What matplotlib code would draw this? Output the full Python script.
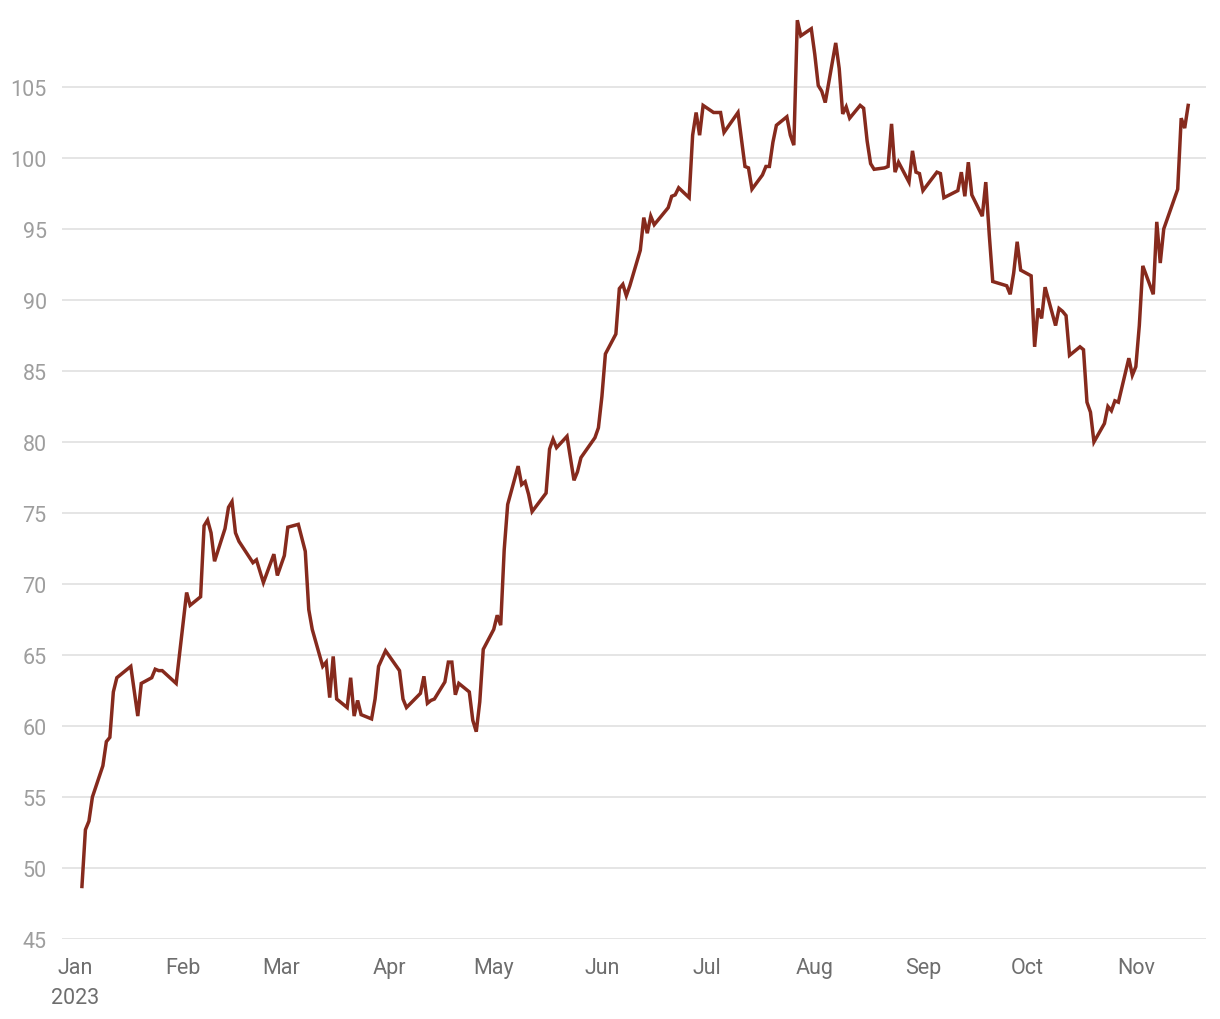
import matplotlib

matplotlib.use("Agg")

import matplotlib.dates as mdates
import matplotlib.pyplot as plt
import numpy as np
import pandas as pd

plt.rcParams["font.family"] = ["Roboto", "DejaVu Sans"]

# values, one per visible vertex of the line
dates = [
    "2023-01-03", "2023-01-04", "2023-01-05", "2023-01-06", "2023-01-09", "2023-01-10",
    "2023-01-11", "2023-01-12", "2023-01-13", "2023-01-17", "2023-01-19", "2023-01-20",
    "2023-01-23", "2023-01-24", "2023-01-25", "2023-01-26", "2023-01-30", "2023-02-02",
    "2023-02-03", "2023-02-06", "2023-02-07", "2023-02-08", "2023-02-09", "2023-02-10",
    "2023-02-13", "2023-02-14", "2023-02-15", "2023-02-16", "2023-02-17", "2023-02-21",
    "2023-02-22", "2023-02-24", "2023-02-27", "2023-02-28", "2023-03-02", "2023-03-03",
    "2023-03-06", "2023-03-08", "2023-03-09", "2023-03-10", "2023-03-13", "2023-03-14",
    "2023-03-15", "2023-03-16", "2023-03-17", "2023-03-20", "2023-03-21", "2023-03-22",
    "2023-03-23", "2023-03-24", "2023-03-27", "2023-03-28", "2023-03-29", "2023-03-31",
    "2023-04-04", "2023-04-05", "2023-04-06", "2023-04-10", "2023-04-11", "2023-04-12",
    "2023-04-13", "2023-04-14", "2023-04-17", "2023-04-18", "2023-04-19", "2023-04-20",
    "2023-04-21", "2023-04-24", "2023-04-25", "2023-04-26", "2023-04-27", "2023-04-28",
    "2023-05-01", "2023-05-02", "2023-05-03", "2023-05-04", "2023-05-05", "2023-05-08",
    "2023-05-09", "2023-05-10", "2023-05-11", "2023-05-12", "2023-05-16", "2023-05-17",
    "2023-05-18", "2023-05-19", "2023-05-22", "2023-05-24", "2023-05-25", "2023-05-26",
    "2023-05-30", "2023-05-31", "2023-06-01", "2023-06-02", "2023-06-05", "2023-06-06",
    "2023-06-07", "2023-06-08", "2023-06-09", "2023-06-12", "2023-06-13", "2023-06-14",
    "2023-06-15", "2023-06-16", "2023-06-20", "2023-06-21", "2023-06-22", "2023-06-23",
    "2023-06-26", "2023-06-27", "2023-06-28", "2023-06-29", "2023-06-30", "2023-07-03",
    "2023-07-05", "2023-07-06", "2023-07-10", "2023-07-12", "2023-07-13", "2023-07-14",
    "2023-07-17", "2023-07-18", "2023-07-19", "2023-07-20", "2023-07-21", "2023-07-24",
    "2023-07-25", "2023-07-26", "2023-07-27", "2023-07-28", "2023-07-31", "2023-08-01",
    "2023-08-02", "2023-08-03", "2023-08-04", "2023-08-07", "2023-08-08", "2023-08-09",
    "2023-08-10", "2023-08-11", "2023-08-14", "2023-08-15", "2023-08-16", "2023-08-17",
    "2023-08-18", "2023-08-21", "2023-08-22", "2023-08-23", "2023-08-24", "2023-08-25",
    "2023-08-28", "2023-08-29", "2023-08-30", "2023-08-31", "2023-09-01", "2023-09-05",
    "2023-09-06", "2023-09-07", "2023-09-11", "2023-09-12", "2023-09-13", "2023-09-14",
    "2023-09-15", "2023-09-18", "2023-09-19", "2023-09-20", "2023-09-21", "2023-09-25",
    "2023-09-26", "2023-09-27", "2023-09-28", "2023-09-29", "2023-10-02", "2023-10-03",
    "2023-10-04", "2023-10-05", "2023-10-06", "2023-10-09", "2023-10-10", "2023-10-11",
    "2023-10-12", "2023-10-13", "2023-10-16", "2023-10-17", "2023-10-18", "2023-10-19",
    "2023-10-20", "2023-10-23", "2023-10-24", "2023-10-25", "2023-10-26", "2023-10-27",
    "2023-10-30", "2023-10-31", "2023-11-01", "2023-11-02", "2023-11-03", "2023-11-06",
    "2023-11-07", "2023-11-08", "2023-11-09", "2023-11-13", "2023-11-14", "2023-11-15",
    "2023-11-16",
]

values = [
    48.7, 52.7, 53.3, 55.0, 57.2, 58.9,
    59.2, 62.4, 63.4, 64.2, 60.7, 63.0,
    63.4, 64.0, 63.9, 63.9, 63.0, 69.4,
    68.5, 69.1, 74.1, 74.5, 73.6, 71.6,
    73.9, 75.4, 75.8, 73.6, 73.0, 71.5,
    71.7, 70.1, 72.1, 70.6, 72.0, 74.0,
    74.2, 72.3, 68.2, 66.8, 64.2, 64.5,
    62.0, 64.9, 61.9, 61.3, 63.4, 60.7,
    61.8, 60.8, 60.5, 61.9, 64.2, 65.3,
    63.9, 61.9, 61.3, 62.3, 63.5, 61.6,
    61.8, 61.9, 63.1, 64.5, 64.5, 62.2,
    63.0, 62.4, 60.4, 59.6, 61.7, 65.4,
    66.8, 67.8, 67.1, 72.4, 75.6, 78.3,
    77.0, 77.2, 76.3, 75.1, 76.4, 79.5,
    80.2, 79.6, 80.4, 77.3, 77.9, 78.9,
    80.3, 81.0, 83.2, 86.2, 87.6, 90.8,
    91.1, 90.3, 91.0, 93.5, 95.8, 94.7,
    95.9, 95.3, 96.5, 97.3, 97.4, 97.9,
    97.2, 101.6, 103.2, 101.6, 103.7, 103.2,
    103.2, 101.8, 103.2, 99.4, 99.3, 97.8,
    98.8, 99.4, 99.4, 101.1, 102.3, 102.9,
    101.6, 100.9, 109.7, 108.6, 109.1, 107.3,
    105.1, 104.7, 103.9, 108.1, 106.3, 103.1,
    103.6, 102.8, 103.7, 103.5, 101.2, 99.6,
    99.2, 99.3, 99.4, 102.4, 99.0, 99.7,
    98.3, 100.5, 99.0, 98.9, 97.7, 99.0,
    98.9, 97.2, 97.7, 99.0, 97.3, 99.7,
    97.4, 95.9, 98.3, 94.6, 91.3, 91.0,
    90.4, 91.9, 94.1, 92.1, 91.7, 86.7,
    89.4, 88.7, 90.9, 88.2, 89.4, 89.2,
    88.9, 86.1, 86.7, 86.5, 82.8, 82.1,
    80.0, 81.3, 82.5, 82.2, 82.9, 82.8,
    85.9, 84.7, 85.3, 88.2, 92.4, 90.4,
    95.5, 92.6, 95.0, 97.8, 102.8, 102.1,
    103.7,
]

y_ticks = [45, 50, 55, 60, 65, 70, 75, 80, 85, 90, 95, 100, 105]
month_starts = pd.date_range("2023-01-01", "2023-11-01", freq="MS")
month_labels = ["Jan\n2023", "Feb", "Mar", "Apr", "May", "Jun",
                "Jul", "Aug", "Sep", "Oct", "Nov"]

x = pd.to_datetime(dates)

fig = plt.figure(figsize=(12.2, 10.2), dpi=100, facecolor="white")
ax = fig.add_axes([0.0508, 0.0784, 0.9377, 0.905])

ax.plot(x, values, color="#862a1d", linewidth=2.5, solid_joinstyle="miter",
        zorder=3)

ax.set_ylim(45, 110)
jan1 = mdates.date2num(pd.Timestamp("2023-01-01"))
ax.set_xlim(jan1 - 3.72, jan1 + 324.1)

ax.set_yticks(y_ticks)
ax.set_yticklabels([str(v) for v in y_ticks])
ax.set_xticks(month_starts)
ax.set_xticklabels(month_labels, linespacing=1.55)

ax.grid(axis="y", color="#e3e3e3", linewidth=1.3)
ax.set_axisbelow(True)
for s in ax.spines.values():
    s.set_visible(False)

ax.tick_params(axis="y", length=0, pad=11, labelsize=15.5, labelcolor="#9e9e9e")
ax.tick_params(axis="x", length=0, pad=13, labelsize=15.5, labelcolor="#6e6e6e")
for lbl in ax.get_xticklabels():
    lbl.set_verticalalignment("top")

fig.savefig("out.png", dpi=100, facecolor="white")
plt.close(fig)
